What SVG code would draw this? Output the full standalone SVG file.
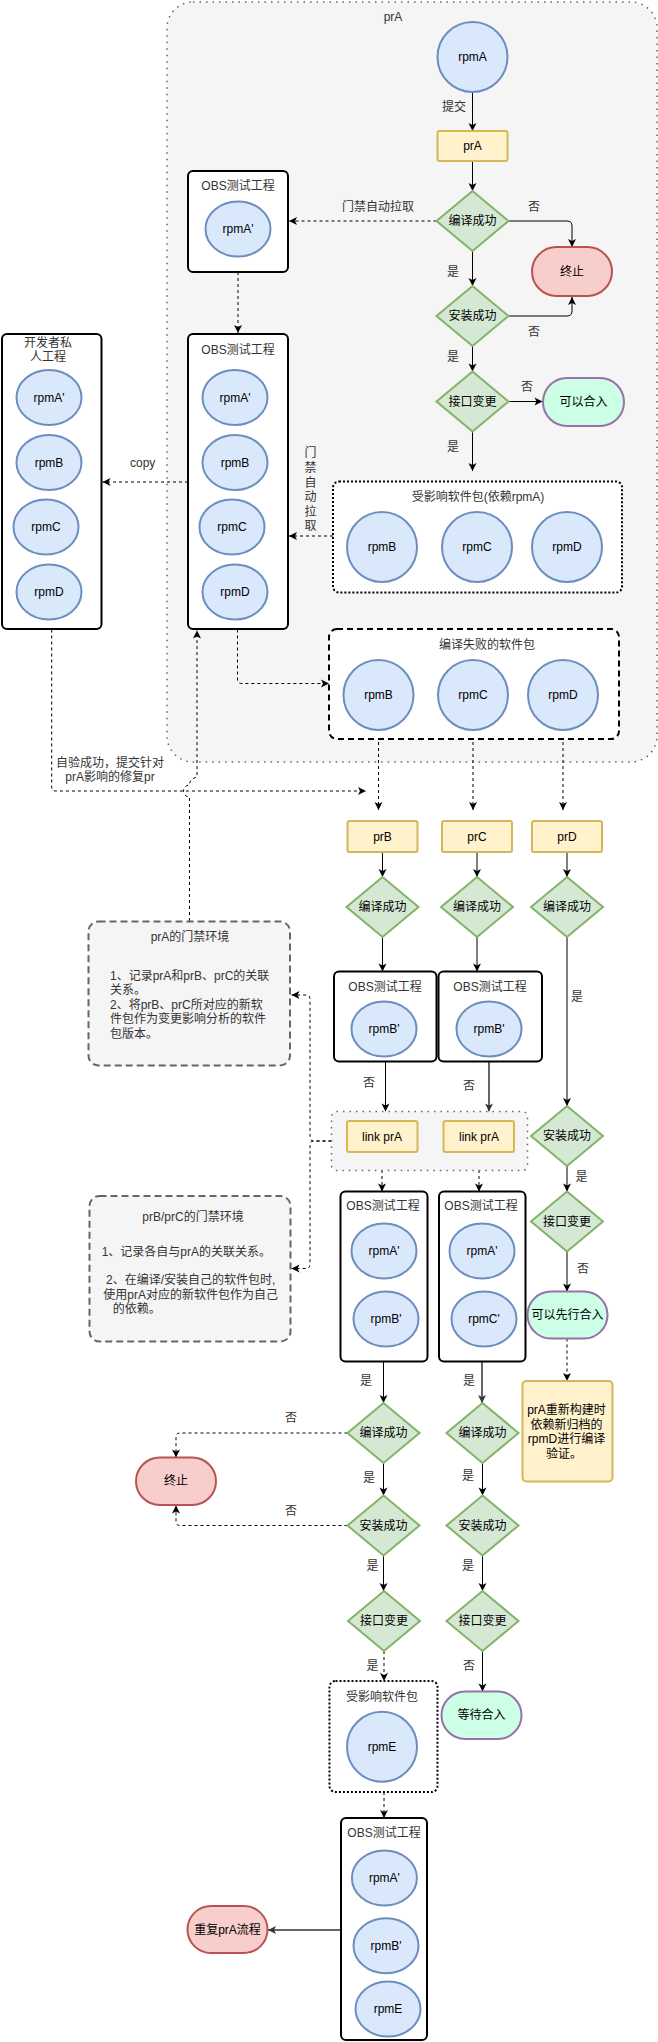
<svg xmlns="http://www.w3.org/2000/svg" width="658" height="2042" viewBox="0 0 658 2042">
<style>
text{font-family:"Liberation Sans","Noto Sans CJK SC",sans-serif;font-size:12px;text-anchor:middle;fill:#000}
.lab{fill:#333}
.st{text-anchor:start;fill:#333}
.ell{fill:#dae8fc;stroke:#6c8ebf;stroke-width:2}
.pr{fill:#fff2cc;stroke:#d6b656;stroke-width:2}
.dia{fill:#d5e8d4;stroke:#82b366;stroke-width:2}
.red{fill:#f8cecc;stroke:#b85450;stroke-width:2}
.ok{fill:#ccffe6;stroke:#9673a6;stroke-width:2}
.obs{fill:#fff;stroke:#000;stroke-width:2}
.dot{fill:#fff;stroke:#000;stroke-width:2;stroke-dasharray:2 2}
.dash{fill:#fff;stroke:#000;stroke-width:2;stroke-dasharray:6 4}
.note{fill:#f5f5f5;stroke:#666;stroke-width:2;stroke-dasharray:7 4}
.grp{fill:#f5f5f5;stroke:#666;stroke-width:1.5;stroke-dasharray:1.5 5}
.e{fill:none;stroke:#000;stroke-width:1;marker-end:url(#a)}
.ed{fill:none;stroke:#000;stroke-width:1;stroke-dasharray:3 3;marker-end:url(#a)}
.en{fill:none;stroke:#000;stroke-width:1;stroke-dasharray:3 3}
.eg{fill:none;stroke:#666;stroke-width:2;marker-end:url(#ag)}
</style>
<defs>
<marker id="a" markerUnits="userSpaceOnUse" markerWidth="10" markerHeight="10" viewBox="0 0 10 10" refX="9" refY="5" orient="auto"><path d="M1,1 L9,5 L1,9 L3,5 Z" fill="#000"/></marker>
<marker id="ag" markerUnits="userSpaceOnUse" markerWidth="10" markerHeight="10" viewBox="0 0 10 10" refX="9" refY="5" orient="auto"><path d="M1,1 L9,5 L1,9 L3,5 Z" fill="#333"/></marker>
</defs>

<g id="container-prA">
<rect x="167" y="2" width="490" height="760" rx="26" class="grp"/>
<text x="393" y="21" class="lab">prA</text>
</g>

<g id="connectors">
<path class="e" d="M472.5,92 V131"/>
<text x="454" y="111" class="lab">提交</text>
<path class="e" d="M472.5,161 V191"/>
<path class="e" d="M508.5,221 H567 Q572,221 572,226 V247"/>
<text x="534" y="211" class="lab">否</text>
<path class="ed" d="M436.5,221 H289"/>
<text x="378" y="211" class="lab">门禁自动拉取</text>
<path class="ed" d="M238,272 V333"/>
<path class="e" d="M472.5,251 V286"/>
<text x="453" y="276" class="lab">是</text>
<path class="e" d="M508.5,316 H567 Q572,316 572,311 V297"/>
<text x="534" y="336" class="lab">否</text>
<path class="e" d="M472.5,346 V371.5"/>
<text x="453" y="361" class="lab">是</text>
<path class="e" d="M508.5,401.5 H542.5"/>
<text x="527" y="391" class="lab">否</text>
<path class="e" d="M472.5,431.5 V471"/>
<text x="453" y="451" class="lab">是</text>
<path class="ed" d="M333,536 H289"/>
<g class="lab">
<text x="310.5" y="457" class="lab">门</text>
<text x="310.5" y="472" class="lab">禁</text>
<text x="310.5" y="487" class="lab">自</text>
<text x="310.5" y="501" class="lab">动</text>
<text x="310.5" y="516" class="lab">拉</text>
<text x="310.5" y="530" class="lab">取</text>
</g>
<path class="ed" d="M188,482 H102.5"/>
<text x="142.7" y="467" class="lab">copy</text>
<path class="ed" d="M237.5,629.5 V679 Q237.5,683.5 242,683.5 H329"/>
<path class="ed" d="M51.7,629.5 V787 Q51.7,791 56,791 H366"/>
<text x="110" y="767" class="lab">自验成功，提交针对</text>
<text x="110" y="781" class="lab">prA影响的修复pr</text>
<path class="ed" d="M189.5,921 V797 A6,6 0 0 1 189.5,785 Q189.5,779 197,777 V630.5"/>
<path class="ed" d="M378.5,730 V810"/>
<path class="ed" d="M473,730 V810"/>
<path class="ed" d="M563,730 V810"/>
<path class="e" d="M382.5,852 V877"/>
<path class="e" d="M477,852 V877"/>
<path class="e" d="M567,852 V877"/>
<path class="e" d="M382.5,937 V971.5"/>
<path class="e" d="M477,937 V971.5"/>
<path class="e" d="M567,937 V1106"/>
<text x="577" y="1001" class="lab">是</text>
<path class="e" d="M385.5,1061.5 V1111.5"/>
<text x="369" y="1087" class="lab">否</text>
<path class="eg" d="M489,1057 V1111.5"/>
<text x="469" y="1090" class="lab">否</text>
<path class="ed" d="M382,1152 V1191.5"/>
<path class="ed" d="M479,1152 V1191.5"/>
<path class="e" d="M567,1166 V1191.5"/>
<text x="581.5" y="1181" class="lab">是</text>
<path class="ed" d="M331.5,1141 H314 Q310,1141 310,1137 V999 Q310,995 306,995 H291.5"/>
<path class="ed" d="M331.5,1141 H314 Q310,1141 310,1145 V1264 Q310,1268.5 306,1268.5 H291.5"/>
<path class="e" d="M567,1251.5 V1291.5"/>
<text x="583" y="1273" class="lab">否</text>
<path class="ed" d="M567,1338.5 V1381"/>
<path class="e" d="M383.5,1361.5 V1403"/>
<text x="366" y="1385" class="lab">是</text>
<path class="eg" d="M482,1361.5 V1403"/>
<text x="469" y="1385" class="lab">是</text>
<path class="ed" d="M347.5,1433 H180 Q176,1433 176,1437 V1457.5"/>
<text x="291" y="1422" class="lab">否</text>
<path class="e" d="M383.5,1463 V1495.5"/>
<text x="369" y="1482" class="lab">是</text>
<path class="e" d="M482.5,1463 V1495.5"/>
<text x="468" y="1480" class="lab">是</text>
<path class="ed" d="M347.5,1525.5 H180 Q176,1525.5 176,1521.5 V1505.5"/>
<text x="291" y="1515" class="lab">否</text>
<path class="e" d="M383.5,1555.5 V1591"/>
<text x="372.6" y="1570" class="lab">是</text>
<path class="e" d="M482.5,1555.5 V1591"/>
<text x="468" y="1570" class="lab">是</text>
<path class="ed" d="M384,1651 V1681"/>
<text x="372.6" y="1670" class="lab">是</text>
<path class="e" d="M482.5,1651 V1691.5"/>
<text x="469" y="1670" class="lab">否</text>
<path class="ed" d="M384,1792 V1818"/>
<path class="eg" d="M341,1930 H268"/>
</g>

<g id="rpmA"><ellipse cx="472.5" cy="57" rx="35" ry="35" class="ell"/><text x="472.5" y="61">rpmA</text></g>
<g id="prA"><rect x="437.5" y="131" width="70" height="30" rx="2" class="pr"/><text x="472.5" y="150">prA</text></g>
<g id="compileA"><path d="M472.5,191 L508.5,221 L472.5,251 L436.5,221 Z" class="dia"/><text x="472.5" y="225">编译成功</text></g>
<g id="stopA"><rect x="532" y="247" width="80" height="49" rx="24.5" class="red"/><text x="572" y="275.5">终止</text></g>
<g id="obs1"><rect x="188" y="171" width="100" height="101" rx="5" class="obs"/><text x="238" y="190" class="lab">OBS测试工程</text><ellipse cx="238" cy="229" rx="32.5" ry="27.5" class="ell"/><text x="238" y="233">rpmA'</text></g>
<g id="installA"><path d="M472.5,286 L508.5,316 L472.5,346 L436.5,316 Z" class="dia"/><text x="472.5" y="320">安装成功</text></g>
<g id="ifaceA"><path d="M472.5,371.5 L508.5,401.5 L472.5,431.5 L436.5,401.5 Z" class="dia"/><text x="472.5" y="405.5">接口变更</text></g>
<g id="mergeA"><rect x="543" y="378" width="81" height="48" rx="24" class="ok"/><text x="583.5" y="406">可以合入</text></g>
<g id="affected1"><rect x="333" y="481.5" width="289" height="111" rx="6" class="dot"/><text x="478" y="501" class="lab">受影响软件包(依赖rpmA)</text>
<ellipse cx="382" cy="547" rx="35" ry="35" class="ell"/><text x="382" y="551">rpmB</text>
<ellipse cx="477" cy="547" rx="35" ry="35" class="ell"/><text x="477" y="551">rpmC</text>
<ellipse cx="567" cy="547" rx="35" ry="35" class="ell"/><text x="567" y="551">rpmD</text></g>
<g id="obs2"><rect x="188" y="334" width="100" height="295" rx="5" class="obs"/><text x="238" y="354" class="lab">OBS测试工程</text>
<ellipse cx="235" cy="397.5" rx="32.5" ry="27.5" class="ell"/><text x="235" y="401.5">rpmA'</text>
<ellipse cx="235" cy="462.5" rx="32.5" ry="27.5" class="ell"/><text x="235" y="466.5">rpmB</text>
<ellipse cx="232" cy="527" rx="32.5" ry="27.5" class="ell"/><text x="232" y="531">rpmC</text>
<ellipse cx="235" cy="592" rx="32.5" ry="27.5" class="ell"/><text x="235" y="596">rpmD</text></g>
<g id="devbox"><rect x="2" y="334" width="99.5" height="295" rx="5" class="obs"/><text x="48" y="347" class="lab">开发者私</text><text x="48" y="361" class="lab">人工程</text>
<ellipse cx="49" cy="397.5" rx="32.5" ry="27.5" class="ell"/><text x="49" y="401.5">rpmA'</text>
<ellipse cx="49" cy="462.5" rx="32.5" ry="27.5" class="ell"/><text x="49" y="466.5">rpmB</text>
<ellipse cx="46" cy="527" rx="32.5" ry="27.5" class="ell"/><text x="46" y="531">rpmC</text>
<ellipse cx="49" cy="592" rx="32.5" ry="27.5" class="ell"/><text x="49" y="596">rpmD</text></g>
<g id="failed"><rect x="329" y="629" width="290" height="110" rx="8" class="dash"/><text x="487" y="649" class="lab">编译失败的软件包</text>
<ellipse cx="378.5" cy="695" rx="35" ry="35" class="ell"/><text x="378.5" y="699">rpmB</text>
<ellipse cx="473" cy="695" rx="35" ry="35" class="ell"/><text x="473" y="699">rpmC</text>
<ellipse cx="563" cy="695" rx="35" ry="35" class="ell"/><text x="563" y="699">rpmD</text></g>

<g id="prB"><rect x="347.5" y="821" width="70" height="31" rx="2" class="pr"/><text x="382.5" y="840.5">prB</text></g>
<g id="prC"><rect x="442" y="821" width="70" height="31" rx="2" class="pr"/><text x="477" y="840.5">prC</text></g>
<g id="prD"><rect x="532" y="821" width="70" height="31" rx="2" class="pr"/><text x="567" y="840.5">prD</text></g>
<g id="compileB"><path d="M382.5,877 L418.5,907 L382.5,937 L346.5,907 Z" class="dia"/><text x="382.5" y="911">编译成功</text></g>
<g id="compileC"><path d="M477,877 L513,907 L477,937 L441,907 Z" class="dia"/><text x="477" y="911">编译成功</text></g>
<g id="compileD"><path d="M567,877 L603,907 L567,937 L531,907 Z" class="dia"/><text x="567" y="911">编译成功</text></g>
<g id="obsB"><rect x="334" y="971.5" width="102.5" height="90" rx="5" class="obs"/><text x="385" y="991" class="lab">OBS测试工程</text><ellipse cx="384" cy="1029" rx="32.5" ry="27.5" class="ell"/><text x="384" y="1033">rpmB'</text></g>
<g id="obsC"><rect x="438.5" y="971.5" width="103.5" height="90" rx="5" class="obs"/><text x="490" y="991" class="lab">OBS测试工程</text><ellipse cx="489" cy="1029" rx="32.5" ry="27.5" class="ell"/><text x="489" y="1033">rpmB'</text></g>
<g id="linkgroup"><rect x="331.5" y="1111.5" width="196" height="59" rx="5" class="grp"/>
<rect x="347" y="1121" width="70.5" height="31" rx="2" class="pr"/><text x="382" y="1140.5">link prA</text>
<rect x="443.5" y="1121" width="70.5" height="31" rx="2" class="pr"/><text x="479" y="1140.5">link prA</text></g>
<g id="installD"><path d="M567,1106 L603,1136 L567,1166 L531,1136 Z" class="dia"/><text x="567" y="1140">安装成功</text></g>
<g id="ifaceD"><path d="M567,1191.5 L603,1221.5 L567,1251.5 L531,1221.5 Z" class="dia"/><text x="567" y="1225.5">接口变更</text></g>
<g id="mergeFirst"><rect x="527.5" y="1291.5" width="80" height="47" rx="23.5" class="ok"/><text x="567.5" y="1319">可以先行合入</text></g>
<g id="noteD"><rect x="522.5" y="1381" width="90" height="100.5" rx="4" class="pr"/>
<text x="566.5" y="1414">prA重新构建时</text><text x="566.5" y="1428.5">依赖新归档的</text><text x="566.5" y="1443">rpmD进行编译</text><text x="564" y="1457.5">验证。</text></g>
<g id="note1"><rect x="88.5" y="921.5" width="201.5" height="144" rx="10" class="note"/>
<text x="190" y="941" class="lab">prA的门禁环境</text>
<text x="110" y="980" class="st">1、记录prA和prB、prC的关联</text>
<text x="110" y="994.4" class="st">关系。</text>
<text x="110" y="1008.8" class="st">2、将prB、prC所对应的新软</text>
<text x="110" y="1023.2" class="st">件包作为变更影响分析的软件</text>
<text x="110" y="1037.6" class="st">包版本。</text></g>
<g id="note2"><rect x="89.5" y="1196" width="201" height="145.5" rx="10" class="note"/>
<text x="193" y="1221" class="lab">prB/prC的门禁环境</text>
<text x="101.7" y="1256" class="st">1、记录各自与prA的关联关系。</text>
<text x="106" y="1284" class="st">2、在编译/安装自己的软件包时,</text>
<text x="103.3" y="1298.5" class="st">使用prA对应的新软件包作为自己</text>
<text x="112.7" y="1313" class="st">的依赖。</text></g>
<g id="obsB2"><rect x="340.5" y="1191.5" width="87" height="170" rx="5" class="obs"/><text x="383" y="1210" class="lab">OBS测试工程</text>
<ellipse cx="384" cy="1251" rx="32.5" ry="27.5" class="ell"/><text x="384" y="1255">rpmA'</text>
<ellipse cx="386" cy="1319" rx="32.5" ry="27.5" class="ell"/><text x="386" y="1323">rpmB'</text></g>
<g id="obsC2"><rect x="439" y="1191.5" width="86.5" height="170" rx="5" class="obs"/><text x="481" y="1210" class="lab">OBS测试工程</text>
<ellipse cx="482" cy="1251" rx="32.5" ry="27.5" class="ell"/><text x="482" y="1255">rpmA'</text>
<ellipse cx="484" cy="1319" rx="32.5" ry="27.5" class="ell"/><text x="484" y="1323">rpmC'</text></g>
<g id="compileB2"><path d="M383.5,1403 L419.5,1433 L383.5,1463 L347.5,1433 Z" class="dia"/><text x="383.5" y="1437">编译成功</text></g>
<g id="compileC2"><path d="M482.5,1403 L518.5,1433 L482.5,1463 L446.5,1433 Z" class="dia"/><text x="482.5" y="1437">编译成功</text></g>
<g id="stopB"><rect x="136" y="1457.5" width="80" height="47.5" rx="23.75" class="red"/><text x="176" y="1485">终止</text></g>
<g id="installB2"><path d="M383.5,1495.5 L419.5,1525.5 L383.5,1555.5 L347.5,1525.5 Z" class="dia"/><text x="383.5" y="1529.5">安装成功</text></g>
<g id="installC2"><path d="M482.5,1495.5 L518.5,1525.5 L482.5,1555.5 L446.5,1525.5 Z" class="dia"/><text x="482.5" y="1529.5">安装成功</text></g>
<g id="ifaceB2"><path d="M384,1591 L420,1621 L384,1651 L348,1621 Z" class="dia"/><text x="384" y="1625">接口变更</text></g>
<g id="ifaceC2"><path d="M482.5,1591 L518.5,1621 L482.5,1651 L446.5,1621 Z" class="dia"/><text x="482.5" y="1625">接口变更</text></g>
<g id="waitMerge"><rect x="441.5" y="1691.5" width="80" height="47.5" rx="23.75" class="ok"/><text x="481.5" y="1719">等待合入</text></g>
<g id="affected2"><rect x="329.5" y="1681" width="108" height="111" rx="6" class="dot"/><text x="382" y="1700.5" class="lab">受影响软件包</text>
<ellipse cx="382" cy="1746.7" rx="35" ry="35" class="ell"/><text x="382" y="1750.7">rpmE</text></g>
<g id="obs3"><rect x="341" y="1818" width="86" height="222" rx="5" class="obs"/><text x="384" y="1837" class="lab">OBS测试工程</text>
<ellipse cx="384.4" cy="1878" rx="32.5" ry="27.5" class="ell"/><text x="384.4" y="1882">rpmA'</text>
<ellipse cx="386" cy="1945.7" rx="32.5" ry="27.5" class="ell"/><text x="386" y="1949.7">rpmB'</text>
<ellipse cx="388" cy="2009" rx="32.5" ry="27.5" class="ell"/><text x="388" y="2013">rpmE</text></g>
<g id="repeat"><rect x="187.5" y="1906" width="80" height="47" rx="23.5" class="red"/><text x="227.5" y="1933.5">重复prA流程</text></g>
</svg>
